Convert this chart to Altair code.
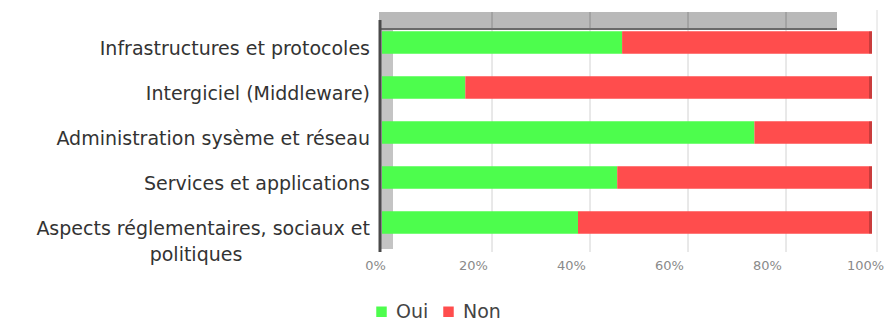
import altair as alt
import pandas as pd

# Survey answers per topic (percent of respondents)
categories = [
    "Infrastructures et protocoles",
    "Intergiciel (Middleware)",
    "Administration sysème et  réseau",
    "Services et applications",
    "Aspects réglementaires, sociaux et politiques",
]
label_first = [
    "Infrastructures et protocoles",
    "Intergiciel (Middleware)",
    "Administration sysème et  réseau",
    "Services et applications",
    "Aspects réglementaires, sociaux et",
]
label_second = ["", "", "", "", "politiques"]
oui = [49, 17, 76, 48, 40]
non = [51, 83, 24, 52, 60]
series = ["Oui", "Non"]
series_colors = ["#4dfd4d", "#ff4d4d"]
grid_ticks = [0.2, 0.4, 0.6, 0.8]
axis_ticks = [0, 0.2, 0.4, 0.6, 0.8, 1.0]

rows = []
for c, o, n in zip(categories, oui, non):
    rows.append({"category": c, "reponse": "Oui", "value": o, "rank": 0})
    rows.append({"category": c, "reponse": "Non", "value": n, "rank": 1})
bars_df = pd.DataFrame(rows)
labels_df = pd.DataFrame({"category": categories, "first": label_first, "second": label_second})
grid_df = pd.DataFrame({"t": grid_ticks})

FONT = "DejaVu Sans"
W, H = 490, 225

y_enc = alt.Y("category:N", sort=categories, axis=None,
              scale=alt.Scale(paddingInner=0.5, paddingOuter=0.25))
x_scale = alt.Scale(domain=[0, 1])
x_axis = alt.Axis(values=axis_ticks, format=".0%", title=None, grid=False,
                  domain=False, ticks=False, labelFont=FONT, labelFontSize=13,
                  labelColor="#8a8a8a", labelPadding=14, labelOffset=-7,
                  labelFlush=False)

one = pd.DataFrame({"k": [0]})

# 3D-style side wall, top band and back frame
side_wall = alt.Chart(one).mark_rect(color="#c4c4c4").encode(
    x=alt.value(-3), x2=alt.value(11), y=alt.value(-8), y2=alt.value(229))
top_band = alt.Chart(one).mark_rect(color="#b9b9b9").encode(
    x=alt.value(-3), x2=alt.value(455), y=alt.value(-8), y2=alt.value(8))
back_edge = alt.Chart(one).mark_rule(color="#dcdcdc").encode(
    x=alt.value(495), y=alt.value(-10), y2=alt.value(232))

grid_low = alt.Chart(grid_df).mark_rule(color="#d2d2d2", xOffset=12).encode(
    x=alt.X("t:Q", scale=x_scale, axis=x_axis), y=alt.value(8), y2=alt.value(232))
grid_high = alt.Chart(grid_df).mark_rule(color="#8c8c8c", xOffset=12).encode(
    x=alt.X("t:Q", scale=x_scale, axis=x_axis), y=alt.value(-8), y2=alt.value(8))
band_edge = alt.Chart(one).mark_rule(color="#6a6a6a", strokeWidth=2).encode(
    x=alt.value(-3), x2=alt.value(455), y=alt.value(9))

bars = alt.Chart(bars_df).mark_bar().encode(
    x=alt.X("value:Q", stack="normalize", scale=x_scale, axis=x_axis),
    y=y_enc,
    color=alt.Color("reponse:N", sort=series,
                    scale=alt.Scale(domain=series, range=series_colors),
                    legend=alt.Legend(title=None, orient="none", direction="horizontal",
                                      legendX=-10, legendY=282, symbolType="square",
                                      symbolSize=110, symbolStrokeWidth=0,
                                      labelFont=FONT, labelFontSize=19, labelColor="#444444",
                                      labelOffset=5, columnPadding=10, padding=0)),
    order=alt.Order("rank:Q"),
)

# darker right-hand face of each bar
end_caps = alt.Chart(labels_df).mark_tick(
    color="#b43434", thickness=3, size=22, xOffset=-1.5
).encode(x=alt.datum(1, scale=x_scale), y=y_enc)

left_edge = alt.Chart(one).mark_rule(color="#4a4a4a", strokeWidth=3).encode(
    x=alt.value(-2), y=alt.value(0), y2=alt.value(232))

text_first = alt.Chart(labels_df).mark_text(
    align="right", baseline="middle", dy=6, font=FONT, fontSize=19, color="#333333"
).encode(x=alt.value(-12), y=y_enc, text="first:N")

text_second = alt.Chart(labels_df).transform_filter("datum.second != ''").mark_text(
    align="center", baseline="middle", dy=32, font=FONT, fontSize=19, color="#333333"
).encode(x=alt.value(-186), y=y_enc, text="second:N")

chart = alt.layer(
    side_wall, top_band, back_edge, grid_high, grid_low, band_edge, bars, end_caps,
    left_edge, text_first, text_second
).properties(
    width=W, height=H,
    autosize=alt.AutoSizeParams(type="none"),
    padding={"left": 382, "top": 20, "right": 12, "bottom": 81},
    background="white",
).configure_view(strokeWidth=0)

chart.save("out.html", embed_options={"renderer": "svg", "actions": False})
